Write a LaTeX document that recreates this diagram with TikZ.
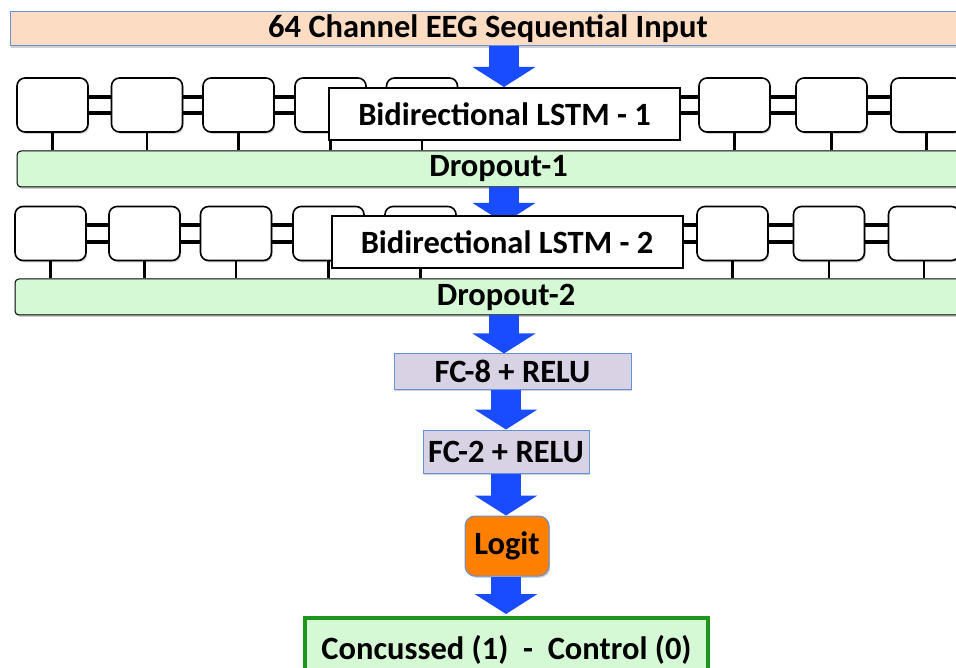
\documentclass[tikz,border=0pt]{standalone}
\usepackage{fontspec}
\setmainfont{Carlito}
\usetikzlibrary{arrows.meta,shadows,calc}
\definecolor{peach}{RGB}{252,221,196}
\definecolor{edgeblue}{RGB}{100,145,215}
\definecolor{dropgreen}{RGB}{213,249,213}
\definecolor{lav}{RGB}{217,210,228}
\definecolor{arrblue}{RGB}{25,75,255}
\definecolor{orng}{RGB}{255,127,0}
\definecolor{outgreen}{RGB}{30,150,30}
\tikzset{
  txt/.style={font=\bfseries\fontsize{32.5}{36}\selectfont, text=black},
  shad/.style={drop shadow={shadow xshift=1.2pt, shadow yshift=-1.8pt, opacity=0.3, fill=black!60}},
  topbar/.style={txt, draw=edgeblue, line width=1pt, fill=peach, shad, minimum width=956pt, minimum height=34pt, inner sep=0pt},
  cell/.style={draw=black, line width=1.6pt, fill=white, rounded corners=8pt, minimum width=71pt, minimum height=54pt, inner sep=0pt, shad},
  lstmbox/.style={txt, draw=black, line width=2pt, fill=white, minimum width=351pt, minimum height=52pt, inner sep=0pt},
  dropbar/.style={txt, draw=black, line width=1pt, fill=dropgreen, rounded corners=4pt, minimum height=36pt, inner sep=0pt, shad},
  link/.style={line width=3.4pt, black},
  tick/.style={line width=2.6pt, black},
  fcbox/.style={txt, draw=edgeblue, line width=1pt, fill=lav, inner sep=0pt, shad},
  logitbox/.style={txt, draw=edgeblue, line width=1pt, fill=orng, rounded corners=10pt, minimum width=84pt, minimum height=60pt, inner sep=0pt, shad},
  outbox/.style={txt, draw=outgreen, line width=4pt, fill=dropgreen, minimum width=403pt, minimum height=64pt, inner sep=0pt},
  bigarrow/.style={line width=30pt, arrblue, -{Triangle[width=62pt,length=20pt]}, shorten <=0pt},
}
\begin{document}
\begin{tikzpicture}[x=1pt,y=-1pt]
\useasboundingbox (0,0) rectangle (956,668);

% top input bar
\node[topbar] (inp) at (488,29) {64 Channel EEG Sequential Input};

% ---------- row 1 ----------
\foreach \n/\x in {1/52.5,2/147,3/238.5,4/330.5,5/422,6/734.5,7/831.5,8/926.5}
  \node[cell] (a\n) at (\x,105) {};
\node[dropbar, minimum width=963pt] (d1) at (498.5,169) {Dropout-1};
\foreach \n in {1,...,8}
  \draw[tick] (a\n.south) -- (a\n.south |- d1.north);
\foreach \i/\j in {1/2,2/3,3/4,4/5,6/7,7/8}{
  \draw[link] ($(a\i.east)+(0,-8)$) -- ($(a\j.west)+(0,-8)$);
  \draw[link] ($(a\i.east)+(0,8)$) -- ($(a\j.west)+(0,8)$);
}
\node[lstmbox] (b1) at (504.5,114) {Bidirectional LSTM - 1};
\draw[link] ($(b1.east)+(0,-17)$) -- ($(a6.west)+(0,-8)$);
\draw[link] ($(b1.east)+(0,-1)$) -- ($(a6.west)+(0,8)$);

% ---------- row 2 ----------
\foreach \n/\x in {1/50.5,2/144.5,3/236,4/328.5,5/420.5,6/732.5,7/829,8/924}
  \node[cell] (c\n) at (\x,233.5) {};
\node[dropbar, minimum width=982pt] (d2) at (506,297) {Dropout-2};
\foreach \n in {1,...,8}
  \draw[tick] (c\n.south) -- (c\n.south |- d2.north);
\foreach \i/\j in {1/2,2/3,3/4,4/5,6/7,7/8}{
  \draw[link] ($(c\i.east)+(0,-8.5)$) -- ($(c\j.west)+(0,-8.5)$);
  \draw[link] ($(c\i.east)+(0,8.5)$) -- ($(c\j.west)+(0,8.5)$);
}

% arrow 2 (under box 2)
\coordinate (x2) at (504,0);
\draw[bigarrow] (d1.south -| x2) -- (504,223);
\node[lstmbox] (b2) at (507,242.5) {Bidirectional LSTM - 2};
\draw[link] ($(b2.east)+(0,-17.5)$) -- ($(c6.west)+(0,-8.5)$);
\draw[link] ($(b2.east)+(0,-0.5)$) -- ($(c6.west)+(0,8.5)$);

% ---------- dense part ----------
\node[fcbox, minimum width=237pt, minimum height=35pt] (fc8) at (512.5,371.5) {FC-8 + RELU};
\node[fcbox, minimum width=166pt, minimum height=43pt] (fc2) at (506,451.5) {FC-2 + RELU};
\node[logitbox] (lg) at (507,546) {Logit};
\node[outbox] (out) at (506.5,650) {Concussed (1)~~-~~Control (0)};

% arrows
\coordinate (x1) at (504,0);
\coordinate (x3) at (506,0);
\draw[bigarrow] (inp.south -| x1) -- (b1.north -| x1);
\draw[bigarrow] (d2.south -| x1) -- (fc8.north -| x1);
\draw[bigarrow] (fc8.south -| x3) -- (fc2.north -| x3);
\draw[bigarrow] (fc2.south -| x3) -- (lg.north -| x3);
\draw[bigarrow] (lg.south -| x3) -- ($(out.north -| x3)+(0,-2)$);
\end{tikzpicture}
\end{document}
